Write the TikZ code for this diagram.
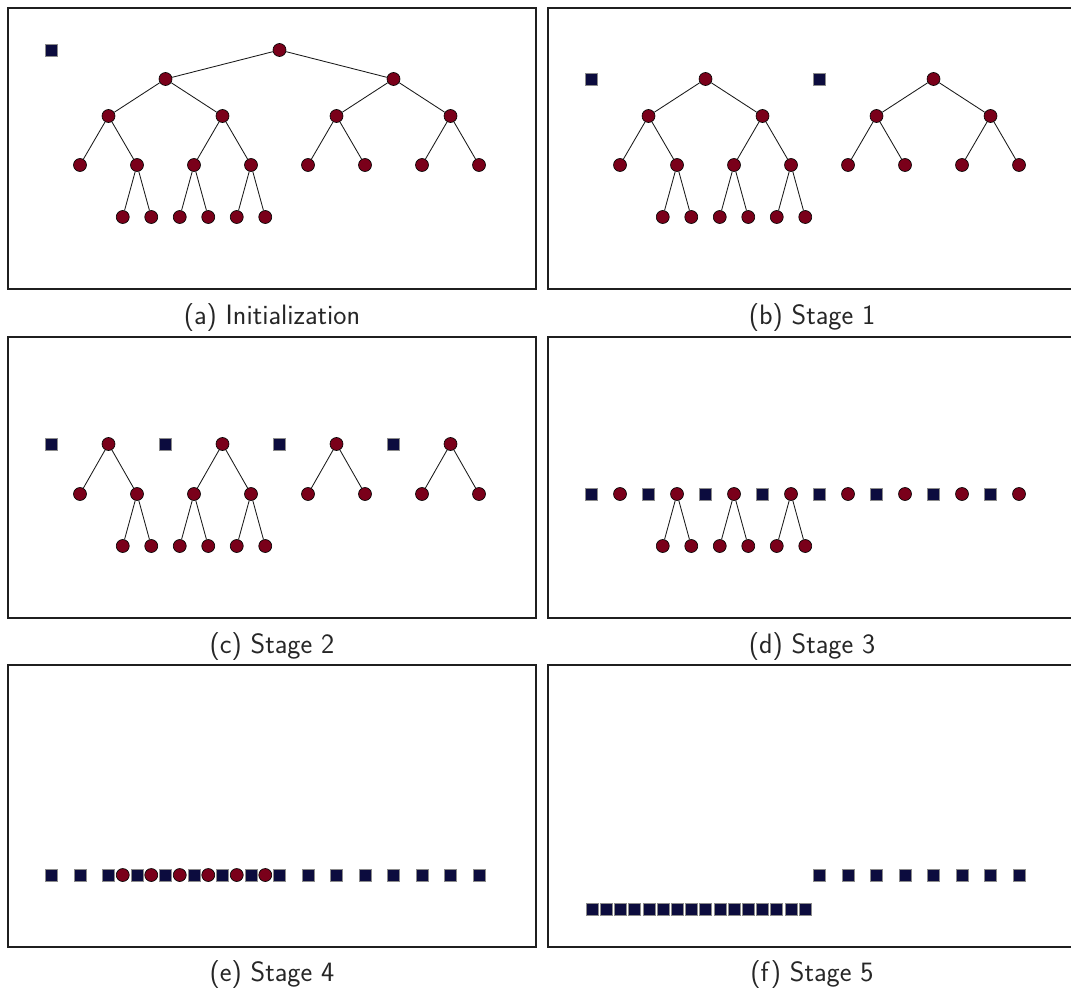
\documentclass[tikz,border=0pt]{standalone}
\definecolor{nodered}{RGB}{122,0,26}
\definecolor{nodeblue}{RGB}{12,12,62}
\begin{document}
\begin{tikzpicture}[x=1pt,y=-1pt,
  cnode/.style={circle,draw=black,line width=0.6pt,fill=nodered,minimum size=13pt,inner sep=0pt},
  snode/.style={rectangle,draw=black!45,line width=0.5pt,fill=nodeblue,minimum size=12pt,inner sep=0pt},
  tedge/.style={line width=0.85pt,draw=black!90},
  frame/.style={line width=2.5pt,draw=black!88},
  captext/.style={font=\sffamily\fontsize{28}{32}\selectfont,text=black!85}]
\useasboundingbox (0,0) rectangle (1071,992);

% ---------------- (a) Initialization ----------------
\begin{scope}
  \draw[frame] (8,8) rectangle (536,289);
  \node[captext] (a-cap) at (272,318) {(a) Initialization};
  \node[snode] (a-s0) at (51.5,50) {};
  \node[cnode] (a-r) at (279.5,50) {};
  \foreach \i/\k in {1/4,2/12} \node[cnode] (a-l1-\i) at ({51.5+28.5*\k},79) {};
  \foreach \i/\k in {1/2,2/6,3/10,4/14} \node[cnode] (a-l2-\i) at ({51.5+28.5*\k},116) {};
  \foreach \i in {1,...,8} \node[cnode] (a-l3-\i) at ({23+57*\i},165) {};
  \foreach \i in {1,...,6} \node[cnode] (a-lf-\i) at ({51.5+28.5*(1.5+\i)},217) {};
  \draw[tedge] (a-r) -- (a-l1-1) (a-r) -- (a-l1-2);
  \draw[tedge] (a-l1-1) -- (a-l2-1) (a-l1-1) -- (a-l2-2) (a-l1-2) -- (a-l2-3) (a-l1-2) -- (a-l2-4);
  \foreach \j in {1,...,4} {
    \pgfmathtruncatemacro\p{2*\j-1}\pgfmathtruncatemacro\q{2*\j}
    \draw[tedge] (a-l2-\j) -- (a-l3-\p) (a-l2-\j) -- (a-l3-\q);
  }
  \draw[tedge] (a-l3-2) -- (a-lf-1) (a-l3-2) -- (a-lf-2) (a-l3-3) -- (a-lf-3) (a-l3-3) -- (a-lf-4) (a-l3-4) -- (a-lf-5) (a-l3-4) -- (a-lf-6);
\end{scope}

% ---------------- (b) Stage 1 ----------------
\begin{scope}[shift={(540,0)}]
  \draw[frame] (8,8) rectangle (540,289);
  \node[captext] (b-cap) at (272,318) {(b) Stage 1};
  \node[snode] (b-s0) at (51.5,79) {};
  \node[snode] (b-s1) at (279.5,79) {};
  \foreach \i/\k in {1/4,2/12} \node[cnode] (b-l1-\i) at ({51.5+28.5*\k},79) {};
  \foreach \i/\k in {1/2,2/6,3/10,4/14} \node[cnode] (b-l2-\i) at ({51.5+28.5*\k},116) {};
  \foreach \i in {1,...,8} \node[cnode] (b-l3-\i) at ({23+57*\i},165) {};
  \foreach \i in {1,...,6} \node[cnode] (b-lf-\i) at ({51.5+28.5*(1.5+\i)},217) {};
  \draw[tedge] (b-l1-1) -- (b-l2-1) (b-l1-1) -- (b-l2-2) (b-l1-2) -- (b-l2-3) (b-l1-2) -- (b-l2-4);
  \foreach \j in {1,...,4} {
    \pgfmathtruncatemacro\p{2*\j-1}\pgfmathtruncatemacro\q{2*\j}
    \draw[tedge] (b-l2-\j) -- (b-l3-\p) (b-l2-\j) -- (b-l3-\q);
  }
  \draw[tedge] (b-l3-2) -- (b-lf-1) (b-l3-2) -- (b-lf-2) (b-l3-3) -- (b-lf-3) (b-l3-3) -- (b-lf-4) (b-l3-4) -- (b-lf-5) (b-l3-4) -- (b-lf-6);
\end{scope}

% ---------------- (c) Stage 2 ----------------
\begin{scope}[shift={(0,329)}]
  \draw[frame] (8,8) rectangle (536,289);
  \node[captext] (c-cap) at (272,318) {(c) Stage 2};
  \foreach \i/\k in {1/0,2/4,3/8,4/12} \node[snode] (c-s-\i) at ({51.5+28.5*\k},115) {};
  \foreach \i/\k in {1/2,2/6,3/10,4/14} \node[cnode] (c-l2-\i) at ({51.5+28.5*\k},115) {};
  \foreach \i in {1,...,8} \node[cnode] (c-l3-\i) at ({23+57*\i},165) {};
  \foreach \i in {1,...,6} \node[cnode] (c-lf-\i) at ({51.5+28.5*(1.5+\i)},217) {};
  \foreach \j in {1,...,4} {
    \pgfmathtruncatemacro\p{2*\j-1}\pgfmathtruncatemacro\q{2*\j}
    \draw[tedge] (c-l2-\j) -- (c-l3-\p) (c-l2-\j) -- (c-l3-\q);
  }
  \draw[tedge] (c-l3-2) -- (c-lf-1) (c-l3-2) -- (c-lf-2) (c-l3-3) -- (c-lf-3) (c-l3-3) -- (c-lf-4) (c-l3-4) -- (c-lf-5) (c-l3-4) -- (c-lf-6);
\end{scope}

% ---------------- (d) Stage 3 ----------------
\begin{scope}[shift={(540,329)}]
  \draw[frame] (8,8) rectangle (540,289);
  \node[captext] (d-cap) at (272,318) {(d) Stage 3};
  \foreach \i in {0,...,7} \node[snode] (d-s-\i) at ({51.5+57*\i},165) {};
  \foreach \i in {1,...,8} \node[cnode] (d-l3-\i) at ({23+57*\i},165) {};
  \foreach \i in {1,...,6} \node[cnode] (d-lf-\i) at ({51.5+28.5*(1.5+\i)},217) {};
  \draw[tedge] (d-l3-2) -- (d-lf-1) (d-l3-2) -- (d-lf-2) (d-l3-3) -- (d-lf-3) (d-l3-3) -- (d-lf-4) (d-l3-4) -- (d-lf-5) (d-l3-4) -- (d-lf-6);
\end{scope}

% ---------------- (e) Stage 4 ----------------
\begin{scope}[shift={(0,657)}]
  \draw[frame] (8,8) rectangle (536,290);
  \node[captext] (e-cap) at (272,318) {(e) Stage 4};
  \foreach \i in {0,...,15} \node[snode] (e-s-\i) at ({51.5+28.5*\i},218) {};
  \foreach \i in {1,...,6} \node[cnode] (e-lf-\i) at ({51.5+28.5*(1.5+\i)},218) {};
\end{scope}

% ---------------- (f) Stage 5 ----------------
\begin{scope}[shift={(540,657)}]
  \draw[frame] (8,8) rectangle (540,290);
  \node[captext] (f-cap) at (272,318) {(f) Stage 5};
  \foreach \i in {8,...,15} \node[snode] (f-s-\i) at ({51.5+28.5*\i},218) {};
  \foreach \i in {0,...,15} \node[snode] (f-t-\i) at ({52+14.2*\i},252) {};
\end{scope}
\end{tikzpicture}
\end{document}
